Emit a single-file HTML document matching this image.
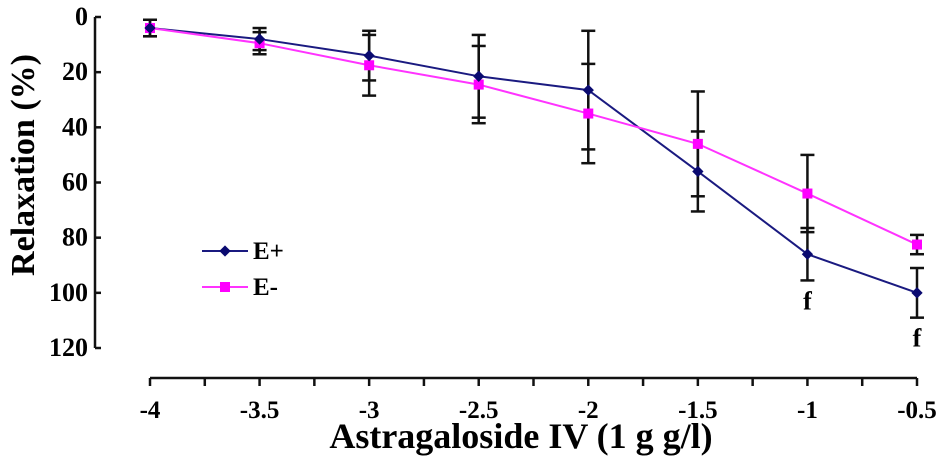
<!DOCTYPE html>
<html><head><meta charset="utf-8"><style>
html,body{margin:0;padding:0;background:#fff;}
svg{display:block;font-family:"Liberation Serif",serif;font-weight:bold;}
</style></head><body>
<svg id="chart" width="945" height="465" viewBox="0 0 945 465">
<g id="axes"></g><g id="series"></g>
<text x="26" y="165" font-size="34" text-anchor="middle" transform="rotate(-90 26 165)" dominant-baseline="middle">Relaxation (%)</text>
<text x="521" y="448" font-size="36" text-anchor="middle">Astragaloside IV (1 g g/l)</text>
<g>
<g>
<line x1="202" y1="251" x2="248" y2="251" stroke="#1a1a80" stroke-width="2"/>
<rect x="221" y="247" width="8" height="8" fill="#0a0a70" transform="rotate(45 225 251)"/>
<text x="253" y="259" font-size="25">E+</text></g>
<g>
<line x1="202" y1="287" x2="248" y2="287" stroke="#ff33ff" stroke-width="2"/>
<rect x="220" y="282" width="10" height="10" fill="#ff00ff"/>
<text x="253" y="295" font-size="25">E-</text></g>
</g>
</svg>
<script>
const xValues=[-4,-3.5,-3,-2.5,-2,-1.5,-1,-0.5];
const ePlus=[4,8,14,21.5,26.5,56,86,100];
const ePlusErr=[3,4,9,15,21.5,14.5,9.5,9];
const eMinus=[4,9.5,17.5,24.5,35,46,64,82.5];
const eMinusErr=[3,4,11,14,18,19,14,3.5];
const yTicks=[0,20,40,60,80,100,120];
const xTickLabels=["-4","-3.5","-3","-2.5","-2","-1.5","-1","-0.5"];
const sigLabels=[{x:-1,v:86,e:9.5,t:"f"},{x:-0.5,v:100,e:9,t:"f"}];

const NS="http://www.w3.org/2000/svg";
const X=v=>150+(v+4)*(917-150)/3.5;
const Y=v=>17+v*(348-17)/120;
function mk(tag,attrs,parent){const e=document.createElementNS(NS,tag);for(const k in attrs)e.setAttribute(k,attrs[k]);parent.appendChild(e);return e;}
const axes=document.getElementById('axes'),ser=document.getElementById('series');
let yl=mk('line',{x1:95,y1:Y(0),x2:95,y2:Y(120),stroke:'#111','stroke-width':2.5},axes);


yTicks.forEach(t=>{
 mk('line',{x1:95,y1:Y(t),x2:101,y2:Y(t),stroke:'#111','stroke-width':2.5},axes);
 const tx=mk('text',{x:88,y:Y(t)+8,'font-size':26,'text-anchor':'end'},axes);tx.textContent=t;
 
 
});
let xl=mk('line',{x1:X(-4),y1:378,x2:X(-0.5),y2:378,stroke:'#111','stroke-width':2.5},axes);


for(let v=-4;v<=-0.5+1e-9;v+=0.25){mk('line',{x1:X(v),y1:378,x2:X(v),y2:386,stroke:'#111','stroke-width':2.5},axes);}
xValues.forEach((v,i)=>{
 const tx=mk('text',{x:X(v),y:418,'font-size':25,'text-anchor':'middle'},axes);tx.textContent=xTickLabels[i];
 
 
});
function errBars(vals,errs,name){
 xValues.forEach((v,i)=>{const g=mk('g',{},ser);
  
  
  const x=X(v),a=Y(vals[i]-errs[i]),b=Y(vals[i]+errs[i]);
  mk('line',{x1:x,y1:a,x2:x,y2:b,stroke:'#111','stroke-width':2.5},g);
  mk('line',{x1:x-7,y1:a,x2:x+7,y2:a,stroke:'#111','stroke-width':2.5},g);
  mk('line',{x1:x-7,y1:b,x2:x+7,y2:b,stroke:'#111','stroke-width':2.5},g);});
}
errBars(eMinus,eMinusErr,'e-minus');errBars(ePlus,ePlusErr,'e-plus');
function line(vals,color,name){
 const p=mk('polyline',{points:xValues.map((v,i)=>X(v)+','+Y(vals[i])).join(' '),fill:'none',stroke:color,'stroke-width':2},ser);
 
 
}
line(ePlus,'#1a1a80','e-plus');line(eMinus,'#ff33ff','e-minus');
xValues.forEach((v,i)=>{
 const r=mk('rect',{x:X(v)-5,y:Y(eMinus[i])-5,width:10,height:10,fill:'#ff00ff'},ser);
 
 
 const d=mk('rect',{x:X(v)-4,y:Y(ePlus[i])-4,width:8,height:8,fill:'#0a0a70',transform:`rotate(45 ${X(v)} ${Y(ePlus[i])})`},ser);
 
 
});
sigLabels.forEach(s=>{
 const t=mk('text',{x:X(s.x),y:Y(s.v+s.e)+29,'font-size':26,'text-anchor':'middle'},ser);t.textContent=s.t;
 
 
});
</script>
</body></html>
